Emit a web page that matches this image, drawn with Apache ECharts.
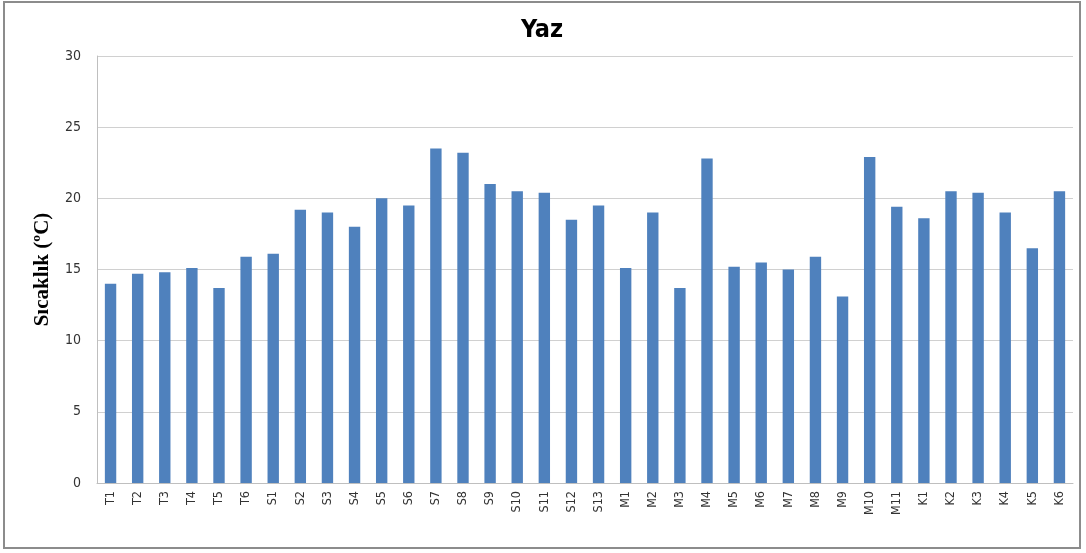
<!DOCTYPE html>
<html>
<head>
<meta charset="utf-8">
<script src="https://cdn.jsdelivr.net/npm/echarts@6/dist/echarts.min.js"></script>
<style>
    html, body { margin: 0; padding: 0; background: #fff; }
    #chart {
        position: absolute;
        left: 3px; top: 1px;
        width: 1078px; height: 548px;
        border: 2px solid #8c8c8c;
        box-sizing: border-box;
    }
</style>
</head>
<body>
<div id="chart"></div>
<script>
var categories = ["T1", "T2", "T3", "T4", "T5", "T6",
    "S1", "S2", "S3", "S4", "S5", "S6", "S7", "S8", "S9", "S10", "S11", "S12", "S13",
    "M1", "M2", "M3", "M4", "M5", "M6", "M7", "M8", "M9", "M10", "M11",
    "K1", "K2", "K3", "K4", "K5", "K6"];
var values = [14.0, 14.7, 14.8, 15.1, 13.7, 15.9,
    16.1, 19.2, 19.0, 18.0, 20.0, 19.5, 23.5, 23.2, 21.0, 20.5, 20.4, 18.5, 19.5,
    15.1, 19.0, 13.7, 22.8, 15.2, 15.5, 15.0, 15.9, 13.1, 22.9, 19.4,
    18.6, 20.5, 20.4, 19.0, 16.5, 20.5];
var yTicks = [0, 5, 10, 15, 20, 25, 30];

var chart = echarts.init(document.getElementById("chart"));
var option = {
    animation: false,
    title: {
        text: "Yaz",
        left: "center",
        top: 10,
        textStyle: {
            fontFamily: "DejaVu Sans Condensed",
            fontWeight: "bold",
            fontSize: 25,
            color: "#000",
        },
    },
    grid: {
        left: 92,
        top: 53,
        right: 6,
        bottom: 64,
    },
    xAxis: {
        type: "category",
        data: categories,
        axisTick: { show: false },
        axisLine: { lineStyle: { color: "#bfbfbf", width: 1 } },
        axisLabel: {
            rotate: 90,
            interval: 0,
            margin: 8,
            fontFamily: "DejaVu Sans Condensed",
            fontSize: 12.5,
            color: "#333",
        },
    },
    yAxis: {
        type: "value",
        min: yTicks[0],
        max: yTicks[yTicks.length - 1],
        interval: 5,
        name: "Sıcaklık (ºC)",
        nameLocation: "middle",
        nameGap: 44,
        nameTextStyle: {
            fontFamily: "Liberation Serif",
            fontWeight: "bold",
            fontSize: 21,
            color: "#000",
        },
        axisLine: { show: true, lineStyle: { color: "#bfbfbf", width: 1 } },
        axisTick: { show: false },
        axisLabel: {
            margin: 16,
            fontFamily: "DejaVu Sans Condensed",
            fontSize: 14,
            color: "#333",
        },
        splitLine: { lineStyle: { color: "#d0d0d0", width: 1 } },
    },
    series: [
        {
            type: "bar",
            data: values,
            barWidth: "42%",
            itemStyle: { color: "#4f81bd" },
        },
    ],
};
chart.setOption(option);
</script>
</body>
</html>
